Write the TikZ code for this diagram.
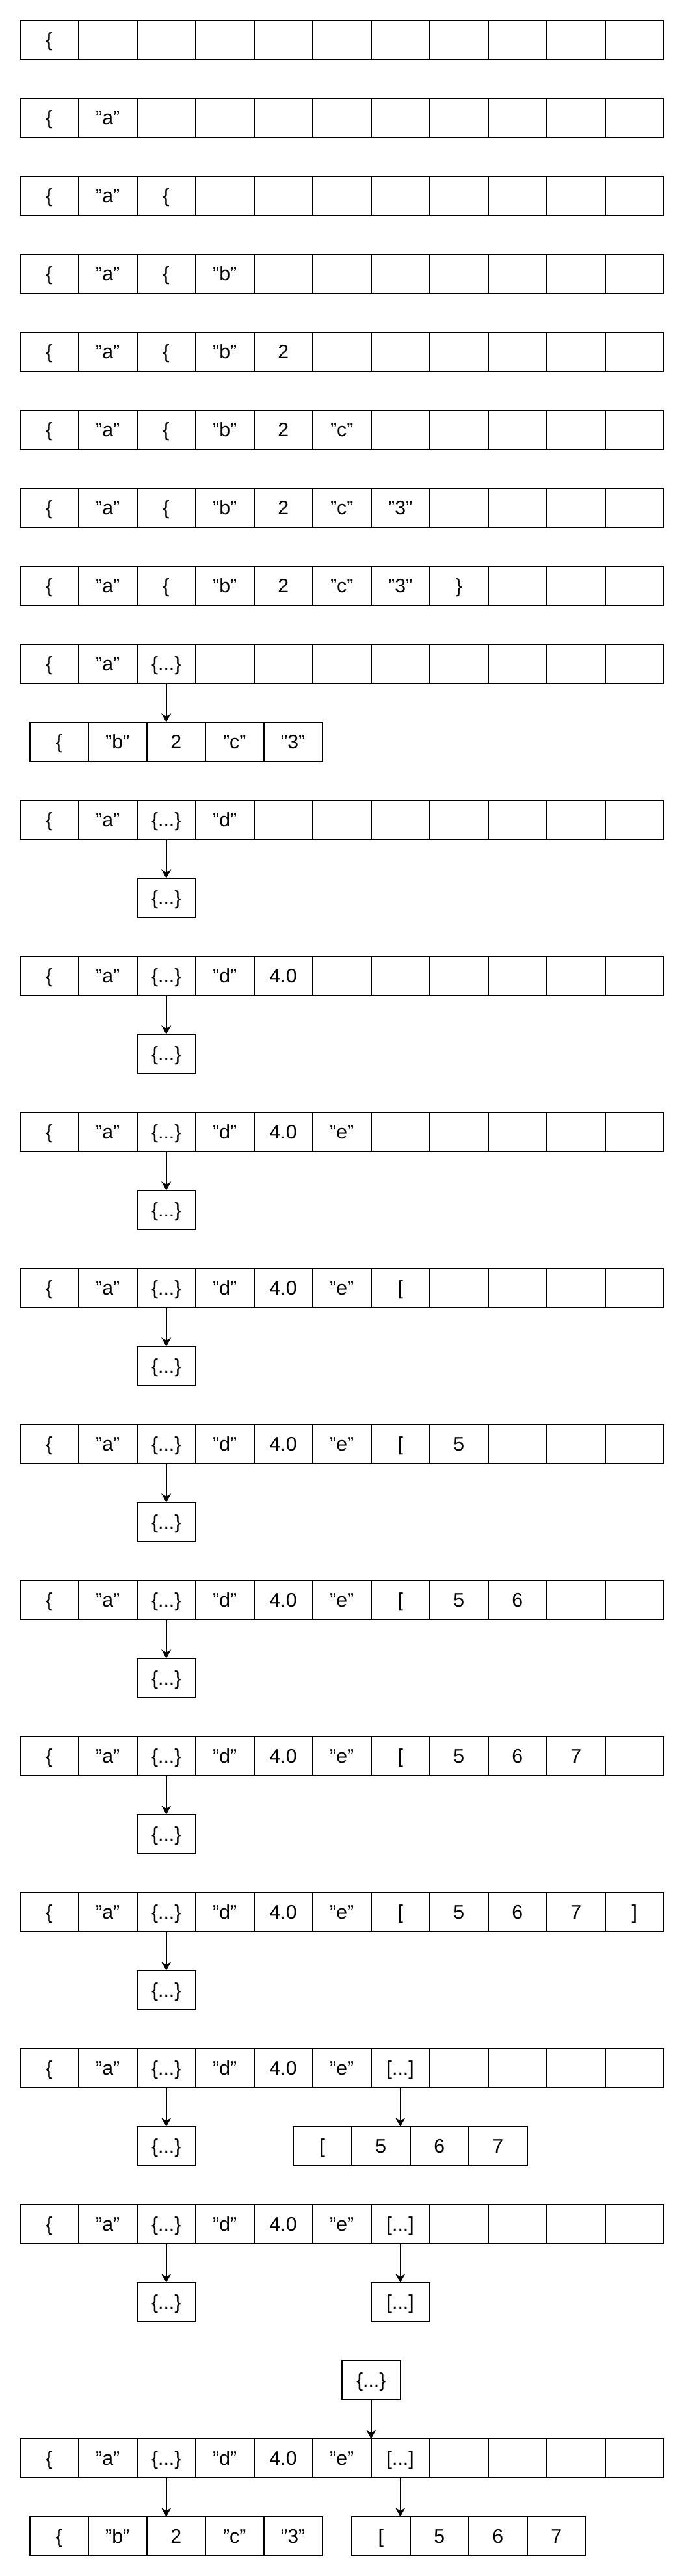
\documentclass[tikz,border=0pt]{standalone}
\usepackage{fontspec}
\setmainfont{Liberation Sans}
\usetikzlibrary{arrows.meta,positioning}

\newcommand{\objtxt}{\{...\}}
\newcommand{\arrtxt}{[...]}

\begin{document}
\begin{tikzpicture}[
    cell/.style={draw, line width=0.6pt, minimum width=0.9cm, minimum height=0.6cm,
        inner sep=0pt, outer sep=0pt, text height=6.2pt, text depth=0pt,
        font=\fontsize{8.6}{10}\selectfont},
    celltext/.style={inner sep=0pt, text height=6.2pt, text depth=0pt,
        font=\fontsize{8.6}{10}\selectfont},
    arr/.style={-{Stealth[length=3.8pt,width=4.2pt,inset=1.2pt]}, line width=0.6pt}
]
    % Keep the margins of the page
    \useasboundingbox (-0.307,0.607) rectangle (10.213,-39.013);

    % Main rows: index / y of the row / texts of the first cells (rest stays empty)
    \foreach \k/\y/\cells in {
        1/0/{\{},
        2/-1.2/{\{,"a"},
        3/-2.4/{\{,"a",\{},
        4/-3.6/{\{,"a",\{,"b"},
        5/-4.8/{\{,"a",\{,"b",2},
        6/-6.0/{\{,"a",\{,"b",2,"c"},
        7/-7.2/{\{,"a",\{,"b",2,"c","3"},
        8/-8.4/{\{,"a",\{,"b",2,"c","3",\}},
        9/-9.6/{\{,"a",\objtxt},
        10/-12.0/{\{,"a",\objtxt,"d"},
        11/-14.4/{\{,"a",\objtxt,"d",4.0},
        12/-16.8/{\{,"a",\objtxt,"d",4.0,"e"},
        13/-19.2/{\{,"a",\objtxt,"d",4.0,"e",[},
        14/-21.6/{\{,"a",\objtxt,"d",4.0,"e",[,5},
        15/-24.0/{\{,"a",\objtxt,"d",4.0,"e",[,5,6},
        16/-26.4/{\{,"a",\objtxt,"d",4.0,"e",[,5,6,7},
        17/-28.8/{\{,"a",\objtxt,"d",4.0,"e",[,5,6,7,]},
        18/-31.2/{\{,"a",\objtxt,"d",4.0,"e",\arrtxt},
        19/-33.6/{\{,"a",\objtxt,"d",4.0,"e",\arrtxt},
        20/-37.2/{\{,"a",\objtxt,"d",4.0,"e",\arrtxt}}{
        \foreach \i in {1,...,11}
            \node[cell] (r\k-\i) at (0.9*\i-0.45,\y) {};
        \foreach \t [count=\i] in \cells
            \node[celltext] (t\k-\i) at (r\k-\i) {\t};
    }

    % Row 9: inner object laid out below
    \foreach \t [count=\i] in {\{,"b",2,"c","3"}
        \node[cell] (s9-\i) at (0.9*\i-0.3,-10.8) {\t};
    \draw[arr] (r9-3) -- (r9-3 |- s9-1.north);

    % Rows 10 to 19: folded object under cell 3
    \foreach \k in {10,...,19} {
        \node[cell, below=0.6cm of r\k-3] (b\k) {\objtxt};
        \draw[arr] (r\k-3) -- (b\k);
    }

    % Row 18: inner array laid out below
    \foreach \t [count=\i] in {[,5,6,7}
        \node[cell] (q18-\i) at (0.9*\i+3.75,-32.4) {\t};
    \draw[arr] (r18-7) -- (r18-7 |- q18-1.north);

    % Row 19: array folded too
    \node[cell, below=0.6cm of r19-7] (c19) {\arrtxt};
    \draw[arr] (r19-7) -- (c19);

    % Row 20: parent object on top, both children laid out
    \node[cell] (o20) at (5.4,-36.0) {\objtxt};
    \draw[arr] (o20) -- (o20 |- r20-7.north);
    \foreach \t [count=\i] in {\{,"b",2,"c","3"}
        \node[cell] (s20-\i) at (0.9*\i-0.3,-38.4) {\t};
    \foreach \t [count=\i] in {[,5,6,7}
        \node[cell] (q20-\i) at (0.9*\i+4.65,-38.4) {\t};
    \draw[arr] (r20-3) -- (r20-3 |- s20-1.north);
    \draw[arr] (r20-7) -- (r20-7 |- q20-1.north);
\end{tikzpicture}
\end{document}
